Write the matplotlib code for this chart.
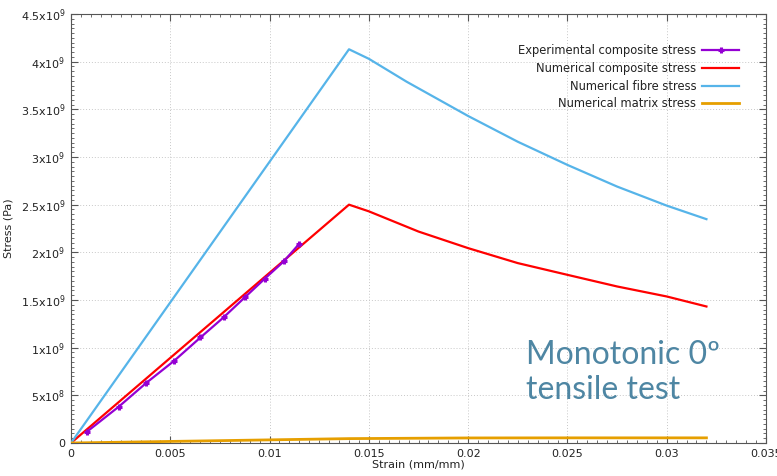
import matplotlib
matplotlib.use("Agg")
import matplotlib.pyplot as plt
from matplotlib.ticker import MultipleLocator, FixedLocator, FixedFormatter

plt.rcParams['font.family'] = ['DejaVu Sans']
plt.rcParams['mathtext.default'] = 'regular'

# Experimental composite stress (strain, Pa)
exp_strain = [0.0008, 0.0024, 0.0038, 0.0052, 0.00652, 0.00768, 0.00875, 0.00975, 0.01071, 0.01148]
exp_stress = [1.18e8, 3.80e8, 6.32e8, 8.63e8, 1.107e9, 1.317e9, 1.527e9, 1.722e9, 1.904e9, 2.086e9]

# Numerical composite stress
comp_strain = [0.0, 0.014, 0.015, 0.0175, 0.02, 0.0225, 0.025, 0.0275, 0.03, 0.032]
comp_stress = [0.0, 2.50e9, 2.43e9, 2.218e9, 2.044e9, 1.887e9, 1.764e9, 1.642e9, 1.537e9, 1.432e9]

# Numerical fibre stress
fib_strain = [0.0, 0.014, 0.015, 0.0169, 0.02, 0.0225, 0.025, 0.0275, 0.03, 0.032]
fib_stress = [0.0, 4.13e9, 4.03e9, 3.79e9, 3.43e9, 3.16e9, 2.917e9, 2.69e9, 2.49e9, 2.348e9]

# Numerical matrix stress
mat_strain = [0.0, 0.014, 0.02, 0.025, 0.03, 0.032]
mat_stress = [0.0, 4.6e7, 5.3e7, 5.4e7, 5.4e7, 5.4e7]

y_ticks = [0, 5e8, 1e9, 1.5e9, 2e9, 2.5e9, 3e9, 3.5e9, 4e9, 4.5e9]
y_labels = ['0', r'5x10$^{8}$', r'1x10$^{9}$', r'1.5x10$^{9}$', r'2x10$^{9}$',
            r'2.5x10$^{9}$', r'3x10$^{9}$', r'3.5x10$^{9}$', r'4x10$^{9}$', r'4.5x10$^{9}$']
x_ticks = [0, 0.005, 0.01, 0.015, 0.02, 0.025, 0.03, 0.035]
x_labels = ['0', '0.005', '0.01', '0.015', '0.02', '0.025', '0.03', '0.035']

fig = plt.figure(figsize=(7.77, 4.76), dpi=100)
ax = fig.add_axes([71 / 777, 1 - 443 / 476, (766 - 71) / 777, (443 - 14) / 476])

ax.plot(exp_strain, exp_stress, color='#9400d3', lw=1.6, marker='+', ms=5, mew=2.2,
        label='Experimental composite stress', zorder=4)
ax.plot(comp_strain, comp_stress, color='#ff0000', lw=1.6, label='Numerical composite stress', zorder=3)
ax.plot(fib_strain, fib_stress, color='#56b4e9', lw=1.6, label='Numerical fibre stress', zorder=3)
ax.plot(mat_strain, mat_stress, color='#e69f00', lw=2.0, label='Numerical matrix stress', zorder=3)

ax.set_xlim(0, 0.035)
ax.set_ylim(0, 4.5e9)
ax.xaxis.set_major_locator(FixedLocator(x_ticks))
ax.xaxis.set_major_formatter(FixedFormatter(x_labels))
ax.yaxis.set_major_locator(FixedLocator(y_ticks))
ax.yaxis.set_major_formatter(FixedFormatter(y_labels))
ax.xaxis.set_minor_locator(MultipleLocator(0.0005))
ax.yaxis.set_minor_locator(MultipleLocator(5e7))

ax.tick_params(which='both', direction='in', top=True, right=True, color='#555555',
               labelsize=8, labelcolor='#222222', pad=4)
ax.tick_params(which='major', length=5, width=0.8)
ax.tick_params(which='minor', length=2.5, width=0.6)
for s in ax.spines.values():
    s.set_color('#555555')
    s.set_linewidth(0.8)

ax.grid(True, which='major', color='#c8c8c8', linestyle=(0, (1, 2)), linewidth=0.7)
ax.set_axisbelow(True)

ax.set_xlabel('Strain (mm/mm)', fontsize=8, color='#222222', labelpad=1)
ax.set_ylabel('Stress (Pa)', fontsize=8, color='#222222', labelpad=5)

leg = ax.legend(loc='upper right', bbox_to_anchor=(0.968, 0.94), frameon=False,
                markerfirst=False, fontsize=8.3, handlelength=3.2, handletextpad=0.5,
                labelspacing=0.4, borderaxespad=0)
for t in leg.get_texts():
    t.set_color('#222222')

ax.text(0.655, 0.165, 'Monotonic 0º\ntensile test', transform=ax.transAxes,
        fontsize=23, color='#4e86a3', family=['Lato', 'DejaVu Sans'],
        linespacing=1.2, va='center', ha='left')

fig.savefig('out.png', dpi=100)
